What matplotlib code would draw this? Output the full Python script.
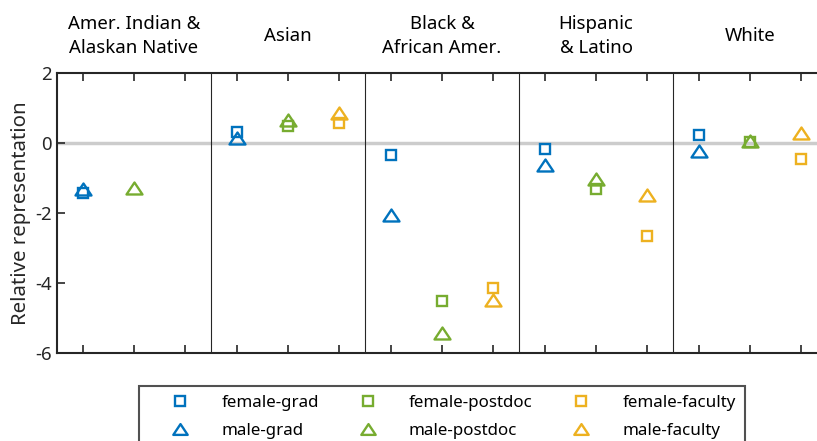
import numpy as np
import matplotlib.pyplot as plt
from matplotlib.lines import Line2D
from matplotlib.path import Path

plt.rcParams['font.family'] = ['Noto Sans', 'DejaVu Sans']
plt.rcParams['axes.unicode_minus'] = False

# Data: relative representation per group (nan = not shown)
groups = ["Amer. Indian &\nAlaskan Native", "Asian", "Black &\nAfrican Amer.",
          "Hispanic\n& Latino", "White"]
stages = ["grad", "postdoc", "faculty"]

female_grad = [-1.42, 0.31, -0.33, -0.16, 0.22]
male_grad = [-1.32, 0.13, -2.07, -0.62, -0.23]
female_postdoc = [np.nan, 0.48, -4.51, -1.30, 0.03]
male_postdoc = [-1.28, 0.66, -5.43, -1.02, 0.07]
female_faculty = [np.nan, 0.57, -4.13, -2.67, -0.45]
male_faculty = [np.nan, 0.86, -4.49, -1.49, 0.29]

colors = {"grad": "#0072BD", "postdoc": "#77AC30", "faculty": "#EDB120"}
dark = "#262626"

# wide, flat triangle like the MATLAB one
tri = Path([(0, 0.75), (-1, -0.75), (1, -0.75), (0, 0.75)],
           [Path.MOVETO, Path.LINETO, Path.LINETO, Path.CLOSEPOLY])

fig = plt.figure(figsize=(8.17, 4.41), dpi=100)
# axes runs a little past the right edge, like the original crop
ax = fig.add_axes([57 / 817, 1 - 353 / 441, 770 / 817, 280 / 441])

ax.axhline(0, color="#cccccc", lw=2.5, zorder=1)
for b in [3, 6, 9, 12]:
    ax.axvline(b, color=dark, lw=0.8, zorder=1)

series = [
    ("female-grad", female_grad, "grad", "s", 0.5),
    ("male-grad", male_grad, "grad", tri, 0.5),
    ("female-postdoc", female_postdoc, "postdoc", "s", 1.5),
    ("male-postdoc", male_postdoc, "postdoc", tri, 1.5),
    ("female-faculty", female_faculty, "faculty", "s", 2.5),
    ("male-faculty", male_faculty, "faculty", tri, 2.5),
]

handles = []
for label, vals, stage, mk, off in series:
    x = np.arange(len(groups)) * 3 + off
    ms = 7.5 if isinstance(mk, str) else 11.5
    ax.plot(x, vals, linestyle="none", marker=mk, ms=ms, mfc="none",
            mec=colors[stage], mew=1.7, zorder=3)
    handles.append(Line2D([], [], linestyle="none", marker=mk, ms=ms * 0.9,
                          mfc="none", mec=colors[stage], mew=1.7, label=label))

ax.set_xlim(0, 15)
ax.set_ylim(-6, 2)
ax.set_yticks([-6, -4, -2, 0, 2])
ax.set_xticks(np.arange(15) + 0.5)
ax.tick_params(axis="x", direction="in", top=True, labelbottom=False,
               length=6, width=1.2, color=dark)
ax.tick_params(axis="y", direction="in", length=6, width=1.2, color=dark,
               labelsize=13.4, labelcolor=dark, pad=4)
for s in ax.spines.values():
    s.set_color(dark)
    s.set_linewidth(1.5)
ax.set_ylabel("Relative representation", fontsize=14.7, color=dark, labelpad=3)

# group titles above each panel
for i, g in enumerate(groups):
    ax.text(i * 3 + 1.5, 1.131, g, transform=ax.get_xaxis_transform(),
            ha="center", va="center", fontsize=13.4, color="black",
            linespacing=1.45)

leg = fig.legend(handles=handles, loc="upper left",
                 bbox_to_anchor=(139 / 817, 1 - 386 / 441),
                 ncol=3, fontsize=12.2, frameon=True, fancybox=False,
                 edgecolor=dark, handlelength=3.76, handletextpad=0.55,
                 columnspacing=1.0, borderpad=0.55, labelspacing=0.7,
                 borderaxespad=0)
leg.get_frame().set_linewidth(1.5)

plt.savefig("out.png", dpi=100)
